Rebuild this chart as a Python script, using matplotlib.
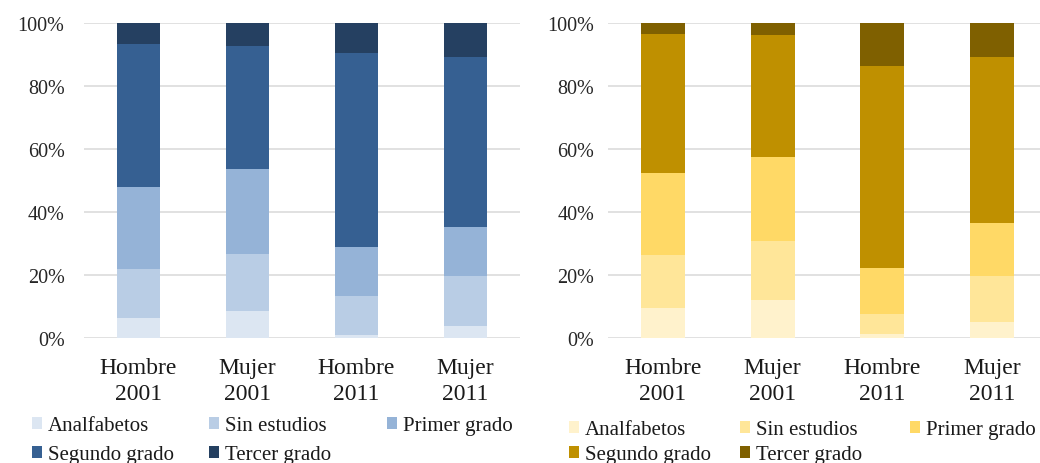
import matplotlib
matplotlib.use("Agg")
import matplotlib.pyplot as plt
from matplotlib.patches import Patch
import numpy as np

categories = ["Hombre\n2001", "Mujer\n2001", "Hombre\n2011", "Mujer\n2011"]
levels = ["Analfabetos", "Sin estudios", "Primer grado", "Segundo grado", "Tercer grado"]

# Left chart (percent shares)
left_analfabetos = [6.3, 8.4, 1.0, 3.8]
left_sin_estudios = [15.6, 18.3, 12.2, 16.0]
left_primer = [25.9, 27.0, 15.6, 15.4]
left_segundo = [45.3, 38.7, 61.6, 53.9]
left_tercer = [6.9, 7.6, 9.6, 10.9]

# Right chart (percent shares)
right_analfabetos = [9.5, 12.0, 1.4, 5.1]
right_sin_estudios = [16.7, 18.7, 6.2, 14.6]
right_primer = [26.1, 26.8, 14.6, 16.7]
right_segundo = [44.2, 38.6, 64.1, 52.8]
right_tercer = [3.5, 3.9, 13.7, 10.8]

blue_colors = ["#dce6f2", "#b9cde5", "#95b3d7", "#366092", "#254061"]
gold_colors = ["#fff2cc", "#ffe699", "#ffd966", "#bf9000", "#7f6000"]

plt.rcParams["font.family"] = ["Liberation Serif", "DejaVu Serif"]

W, H = 1040, 464
fig = plt.figure(figsize=(W / 100, H / 100), dpi=100)

def fx(px):
    return px / W

def fy(py):
    return 1 - py / H

y0, y100 = 339, 23.5

def draw(ax, series, colors, ypad):
    x = np.arange(len(categories))
    bottom = np.zeros(len(categories))
    for vals, c in zip(series, colors):
        v = np.array(vals, dtype=float)
        ax.bar(x, v, 0.4, bottom=bottom, color=c, linewidth=0, zorder=3)
        bottom += v
    ax.set_ylim(0, 100)
    ax.set_xlim(-0.5, 3.5)
    ax.set_yticks([0, 20, 40, 60, 80, 100])
    ax.set_yticklabels([f"{t}%" for t in [0, 20, 40, 60, 80, 100]])
    ax.set_xticks(x)
    ax.set_xticklabels(categories, fontsize=17, linespacing=1.3, color="#1a1a1a")
    ax.tick_params(axis="y", length=0, pad=ypad, labelsize=14.5, labelcolor="#262626")
    ax.tick_params(axis="x", length=0, pad=14)
    for s in ax.spines.values():
        s.set_visible(False)
    ax.yaxis.grid(True, color="#d9d9d9", linewidth=1.1, zorder=0)
    ax.set_axisbelow(True)

axL = fig.add_axes([fx(84), fy(y0), fx(436), (y0 - y100) / H])
draw(axL, [left_analfabetos, left_sin_estudios, left_primer, left_segundo, left_tercer],
     blue_colors, 14)

axR = fig.add_axes([fx(608), fy(y0), fx(439), (y0 - y100) / H])
draw(axR, [right_analfabetos, right_sin_estudios, right_primer, right_segundo, right_tercer],
     gold_colors, 10)

def legend_entries(colors, xs, ys, size):
    pos = [(xs[0], ys[0]), (xs[1], ys[0]), (xs[2], ys[0]), (xs[0], ys[1]), (xs[1], ys[1])]
    for lab, c, (px, py) in zip(levels, colors, pos):
        fig.legend(handles=[Patch(facecolor=c, edgecolor="none", label=lab)],
                   loc="center left", bbox_to_anchor=(fx(px), fy(py)),
                   frameon=False, fontsize=size, handlelength=0.5, handleheight=0.5,
                   handletextpad=0.25, borderpad=0, borderaxespad=0, labelcolor="#1a1a1a")

legend_entries(blue_colors, [32, 209, 387], [427, 456], 15)
legend_entries(gold_colors, [569, 740, 910], [431, 456], 15)

fig.savefig("out.png", dpi=100)
